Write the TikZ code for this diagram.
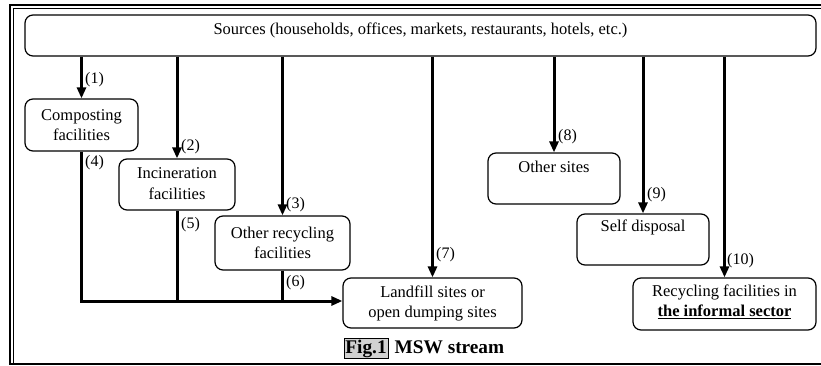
\documentclass[tikz,border=0pt]{standalone}
\usepackage{fontspec}
\setmainfont{Liberation Serif}
\usetikzlibrary{arrows.meta}
\begin{document}
\begin{tikzpicture}[x=1pt,y=-1pt,
  box/.style={draw, line width=1.2pt, rounded corners=8pt, inner sep=0pt},
  flow/.style={line width=3pt, line join=miter, -{Triangle[length=11pt,width=9pt]}},
  seg/.style={line width=3pt},
  lbl/.style={anchor=west, inner sep=0pt, font=\fontsize{16}{18}\selectfont},
  txt/.style={align=center, inner sep=0pt, font=\fontsize{16.5}{20}\selectfont}]
\useasboundingbox (0,0) rectangle (821,366);
% frame
\draw[line width=2pt] (821,5) -- (10,5) -- (10,364) -- (821,364);
\draw[line width=1pt] (821,8.5) -- (13.5,8.5) -- (13.5,363);
% boxes
\node[box, minimum width=791pt, minimum height=41pt] (src) at (420.5,35.5) {};
\node[box, minimum width=113pt, minimum height=52pt] (comp) at (81.5,125) {};
\node[box, minimum width=116pt, minimum height=51pt] (inc) at (177,184.5) {};
\node[box, minimum width=135pt, minimum height=54pt] (orec) at (282.5,243) {};
\node[box, minimum width=179pt, minimum height=50pt] (land) at (432.5,303) {};
\node[box, minimum width=132pt, minimum height=51pt] (oth) at (554,178.5) {};
\node[box, minimum width=132pt, minimum height=51pt] (self) at (643,239.5) {};
\node[box, minimum width=183pt, minimum height=52pt] (recy) at (724.5,304) {};
% texts
\node[txt] (tsrc) at (420.5,30) {Sources (households, offices, markets, restaurants, hotels, etc.)};
\node[txt] (tcomp) at (81.5,125) {Composting\\facilities};
\node[txt, font=\fontsize{16.5}{21}\selectfont] (tinc) at (177,184) {Incineration\\facilities};
\node[txt] (torec) at (282.5,243) {Other recycling\\facilities};
\node[txt] (tland) at (432.5,303) {Landfill sites or\\open dumping sites};
\node[txt] (toth) at (554,167) {Other sites};
\node[txt] (tself) at (643,227) {Self disposal};
\node[txt] (trecy) at (724.5,302) {Recycling facilities in\\\textbf{\underline{the informal sector}}};
% connectors
\coordinate (j) at (0,301);
\draw[flow] (comp.north |- src.south) -- (comp.north);
\draw[flow] (inc.north |- src.south) -- (inc.north);
\draw[flow] (orec.north |- src.south) -- (orec.north);
\draw[flow] (land.north |- src.south) -- (land.north);
\draw[flow] (oth.north |- src.south) -- (oth.north);
\draw[flow] (self.north |- src.south) -- (self.north);
\draw[flow] (recy.north |- src.south) -- (recy.north);
\draw[flow] (comp.south) |- (land.west |- j);
\draw[seg] (inc.south) -- (inc.south |- j);
\draw[seg] (orec.south) -- (orec.south |- j);
% labels
\node[lbl] (l1) at (85,80) {(1)};
\node[lbl] (l2) at (181,147) {(2)};
\node[lbl] (l3) at (286,205) {(3)};
\node[lbl] (l4) at (85,163) {(4)};
\node[lbl] (l5) at (181,225) {(5)};
\node[lbl] (l6) at (286,283) {(6)};
\node[lbl] (l7) at (436,255) {(7)};
\node[lbl] (l8) at (558,137) {(8)};
\node[lbl] (l9) at (647,195) {(9)};
\node[lbl] (l10) at (727,261) {(10)};
% caption
\node[draw, fill=black!18, line width=0.7pt, inner sep=1.5pt, anchor=base,
      font=\fontsize{19.3}{21}\selectfont\bfseries] (fig) at (366,353) {Fig.1};
\node[anchor=base west, inner sep=0pt, font=\fontsize{19.3}{21}\selectfont\bfseries]
      (msw) at ([xshift=6pt]fig.base east) {MSW stream};
\end{tikzpicture}
\end{document}
